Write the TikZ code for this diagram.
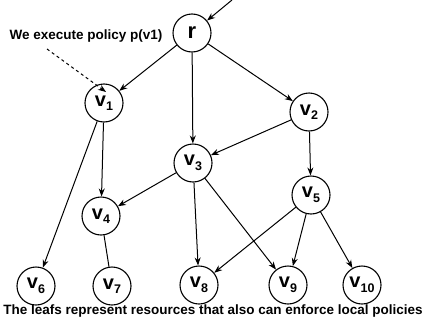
\documentclass[tikz,border=0pt]{standalone}
\usepackage{fontspec}
\setmainfont{Liberation Sans}
\usetikzlibrary{arrows.meta}
\tikzset{vtx/.style={draw, circle, line width=1.1pt, minimum size=38pt, inner sep=0pt, font=\bfseries},
  edge/.style={-{Stealth[length=8pt,width=6pt]}, line width=1pt}}
\newcommand{\vlab}[1]{{\fontsize{20}{20}\selectfont v}\raisebox{-4.5pt}{\fontsize{12.5}{12.5}\selectfont #1}}

\begin{document}
\begin{tikzpicture}[x=1pt,y=-1pt]
\useasboundingbox (0,0) rectangle (427,324);
% nodes
\node[vtx] (r) at (192,33) {\fontsize{22}{22}\selectfont r};
\node[vtx] (v1) at (104,103) {\vlab{1}};
\node[vtx] (v2) at (309,112) {\vlab{2}};
\node[vtx] (v3) at (193,163) {\vlab{3}};
\node[vtx] (v4) at (101,216) {\vlab{4}};
\node[vtx] (v5) at (311,195) {\vlab{5}};
\node[vtx] (v6) at (36,286) {\vlab{6}};
\node[vtx] (v7) at (112,286) {\vlab{7}};
\node[vtx] (v8) at (199,285) {\vlab{8}};
\node[vtx] (v9) at (288,285) {\vlab{9}};
\node[vtx] (v10) at (362,285) {\vlab{10}};
% labels
\node[font=\bfseries\fontsize{13.5}{13.5}\selectfont] (pol) at (86,36) {We execute policy p(v1)};
\node[font=\bfseries\fontsize{13.5}{13.5}\selectfont] (leafs) at (213,311) {The leafs represent resources that also can enforce local policies};
\coordinate (entry) at (232,0);
\coordinate (dstart) at (47,49);
\coordinate (dend) at (106,92);
% edges
\draw[edge] (entry) -- (r);
\draw[edge, dashed] (dstart) -- (dend);
\draw[edge] (r) -- (v1);
\draw[edge] (r) -- (v3);
\draw[edge] (r) -- (v2);
\draw[edge] (v1) -- (v6);
\draw[edge] (v1) -- (v4);
\draw[edge] (v2) -- (v3);
\draw[edge] (v2) -- (v5);
\draw[edge] (v3) -- (v4);
\draw[edge] (v3) -- (v8);
\draw[edge] (v3) -- (v9);
\draw[line width=1pt] (v4) -- (v7);
\draw[edge] (v5) -- (v8);
\draw[edge] (v5) -- (v9);
\draw[edge] (v5) -- (v10);
\end{tikzpicture}
\end{document}
